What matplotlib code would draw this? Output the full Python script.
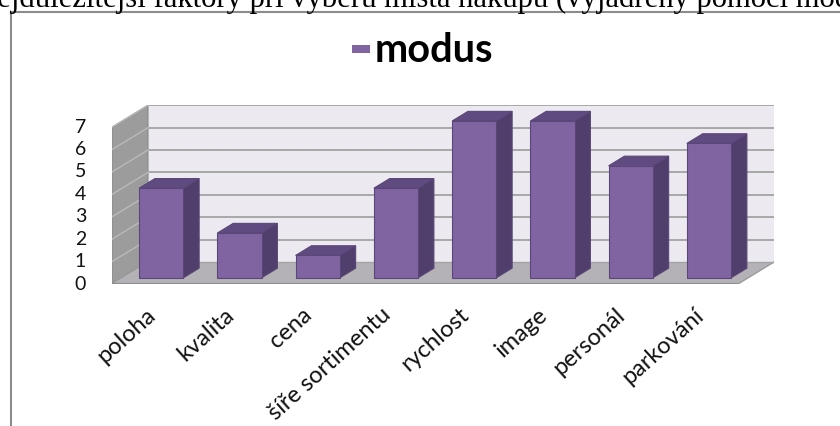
import matplotlib
matplotlib.use('Agg')
import matplotlib.pyplot as plt
from matplotlib.patches import Polygon, Rectangle
from matplotlib.lines import Line2D
import numpy as np

# ---- data ----
categories = ['poloha', 'kvalita', 'cena', 'šíře sortimentu', 'rychlost',
              'image', 'personál', 'parkování']
values = [4, 2, 1, 4, 7, 7, 5, 6]
y_ticks = [0, 1, 2, 3, 4, 5, 6, 7]
series_name = 'modus'
caption = 'Nejdůležitější faktory při výběru místa nákupu (vyjádřený pomocí modusu)'

# ---- layout (pixels) ----
W, H = 840, 426
PX_CAT = 78.25      # pixels per category on the front plane
PX_UNIT = 22.4      # pixels per value unit
DX = 36 / PX_CAT    # depth offset in category units
DY = 22 / PX_UNIT   # depth offset in value units
ZF, ZB = 0.28, 0.72 # bar front/back depth fractions
BW = 0.565          # bar width in category units
X0, Y0 = 112, 284   # front-left-bottom corner in pixels
YMAX = y_ticks[-1]
n = len(categories)

FRONT = '#8064A2'
SIDE = '#503E6C'
TOP = '#5F4B80'
EDGE = '#5A4778'
BACKWALL = '#ECEAF0'
SIDEWALL = '#9C9C9C'
FLOOR = '#B4B2B7'
GRID = '#A3A3A3'
LABEL_FONT = 'Lato'

fig = plt.figure(figsize=(W / 100, H / 100), dpi=100)
fig.patch.set_facecolor('white')

ax = fig.add_axes([X0 / W, 1 - Y0 / H, (n + DX) * PX_CAT / W, (YMAX + DY) * PX_UNIT / H])
ax.set_xlim(0, n + DX)
ax.set_ylim(0, YMAX + DY)
ax.axis('off')


def P(x, y, z):
    return (x + z * DX, y + z * DY)


# walls and floor
ax.add_patch(Polygon([P(0, 0, 1), P(n, 0, 1), P(n, YMAX, 1), P(0, YMAX, 1)],
                     closed=True, facecolor=BACKWALL, edgecolor='none', zorder=1))
ax.add_patch(Polygon([P(0, 0, 0), P(0, YMAX, 0), P(0, YMAX, 1), P(0, 0, 1)],
                     closed=True, facecolor=SIDEWALL, edgecolor='#8A8A8A', lw=0.8, zorder=1))
ax.add_patch(Polygon([P(0, 0, 0), P(n, 0, 0), P(n, 0, 1), P(0, 0, 1)],
                     closed=True, facecolor=FLOOR, edgecolor='none', zorder=1))
# floor front edge
ax.plot([P(0, 0, 0)[0], P(n, 0, 0)[0]], [P(0, 0, 0)[1], P(n, 0, 0)[1]],
        color='#8E8E8E', lw=1.6, zorder=2, solid_capstyle='butt')
ax.plot([P(n, 0, 0)[0], P(n, 0, 1)[0]], [P(n, 0, 0)[1], P(n, 0, 1)[1]],
        color='#9A9A9A', lw=1.0, zorder=2)

# gridlines
for k in y_ticks[1:]:
    a, b = P(0, k, 1), P(n, k, 1)
    ax.plot([a[0], b[0]], [a[1], b[1]], color=GRID, lw=1.3, zorder=2)
    c, d = P(0, k, 0), P(0, k, 1)
    ax.plot([c[0], d[0]], [c[1], d[1]], color='#B9B9B9', lw=1.0, zorder=2)
a, b = P(0, 0, 1), P(n, 0, 1)
ax.plot([a[0], b[0]], [a[1], b[1]], color=GRID, lw=1.0, zorder=2)

# bars
centers = np.arange(n) + 0.5
ax.bar(centers + ZF * DX, values, width=BW, bottom=ZF * DY,
       color=FRONT, edgecolor=EDGE, linewidth=0.8, zorder=5)
for c, v in zip(centers, values):
    xl, xr = c - BW / 2, c + BW / 2
    top = [P(xl, v, ZF), P(xr, v, ZF), P(xr, v, ZB), P(xl, v, ZB)]
    side = [P(xr, 0, ZF), P(xr, v, ZF), P(xr, v, ZB), P(xr, 0, ZB)]
    ax.add_patch(Polygon(side, closed=True, facecolor=SIDE, edgecolor=EDGE, lw=0.8, zorder=4))
    ax.add_patch(Polygon(top, closed=True, facecolor=TOP, edgecolor=EDGE, lw=0.8, zorder=4))

# y tick labels on front plane
for k in y_ticks:
    ax.text(-0.33, k, str(k), ha='right', va='center', fontsize=14,
            family=LABEL_FONT, color='#111111', clip_on=False)

# category labels
for c, lab in zip(centers, categories):
    ax.text(c + 0.02, -(312 - Y0) / PX_UNIT, lab, rotation=42, rotation_mode='anchor',
            ha='right', va='center', fontsize=17, family=LABEL_FONT,
            color='#111111', clip_on=False)

# legend
fig.add_artist(Rectangle((352 / W, 1 - 53 / H), 18 / W, 8 / H,
                         transform=fig.transFigure, facecolor=FRONT,
                         edgecolor='none'))
fig.text(375 / W, 1 - 62 / H, series_name, ha='left', va='baseline',
         fontsize=28.5, fontweight='bold', family=LABEL_FONT, color='#000000')

# frame around the chart
fig.add_artist(Line2D([10.5 / W, 10.5 / W], [1 - 11.5 / H, 0], transform=fig.transFigure,
                      color='#8C8C8C', lw=1.5))
fig.add_artist(Line2D([10.5 / W, 1], [1 - 11.5 / H, 1 - 11.5 / H], transform=fig.transFigure,
                      color='#8C8C8C', lw=1.5))

# cut-off caption above (cut off at the page edge in the reference too)
fig.text(-25 / W, 1 - 7.5 / H, caption, ha='left', va='baseline', fontsize=22.1,
         family='Liberation Serif', color='#000000')

fig.savefig('out.png', dpi=100)
